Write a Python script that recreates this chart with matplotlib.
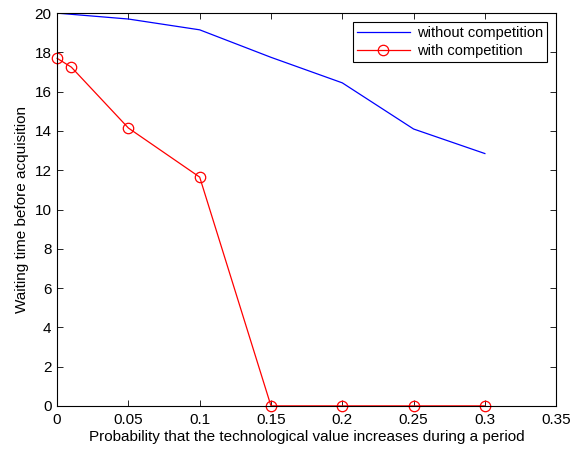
import numpy as np
import matplotlib.pyplot as plt

plt.rcParams['font.family'] = ['Liberation Sans', 'DejaVu Sans']
plt.rcParams['font.size'] = 11

x_without = [0, 0.05, 0.1, 0.15, 0.2, 0.25, 0.3]
y_without = [20, 19.7, 19.15, 17.75, 16.45, 14.1, 12.85]

x_with = [0, 0.01, 0.05, 0.1, 0.15, 0.2, 0.25, 0.3]
y_with = [17.7, 17.25, 14.15, 11.65, 0, 0, 0, 0]

fig = plt.figure(figsize=(5.71, 4.53), dpi=100)
ax = fig.add_axes([0.1, 0.104, 0.874, 0.867])

ax.plot(x_without, y_without, color='blue', lw=0.9, label='without competition')
ax.plot(x_with, y_with, color='red', lw=0.9, marker='o', ms=7.5, mfc='none',
        mec='red', mew=0.9, label='with competition', clip_on=False)

ax.set_xlim(0, 0.35)
ax.set_ylim(0, 20)
ax.set_xticks(np.arange(0, 0.36, 0.05))
ax.set_xticklabels(['0', '0.05', '0.1', '0.15', '0.2', '0.25', '0.3', '0.35'])
ax.set_yticks(range(0, 21, 2))
ax.tick_params(direction='in', top=True, right=True, length=4, width=0.6)
ax.tick_params(axis='x', pad=5)
ax.tick_params(axis='y', pad=4)
for s in ax.spines.values():
    s.set_linewidth(0.8)

ax.set_xlabel('Probability that the technological value increases during a period', labelpad=2)
ax.set_ylabel('Waiting time before acquisition', labelpad=4)

leg = ax.legend(loc='upper right', fancybox=False, edgecolor='black', framealpha=1,
                borderaxespad=0.6, handlelength=3.6, borderpad=0.3, labelspacing=0.25,
                handletextpad=0.5, fontsize=10.5)
leg.get_frame().set_linewidth(0.8)

fig.savefig('out.png', dpi=100)
